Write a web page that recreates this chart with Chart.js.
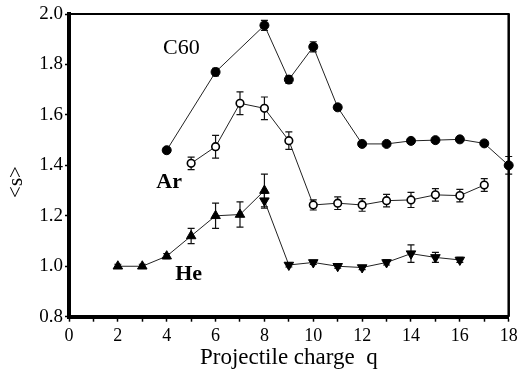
<!DOCTYPE html>
<html>
<head>
<meta charset="utf-8">
<script src="https://cdn.jsdelivr.net/npm/chart.js@4.4.1/dist/chart.umd.min.js"></script>
<style>
  html, body { margin: 0; padding: 0; background: #ffffff; }
  #wrap { width: 518px; height: 378px; }
</style>
</head>
<body>
<div id="wrap"><canvas id="c" width="518" height="378"></canvas></div>
<script>
// ---- data ----
const c60Q   = [4, 6, 8, 9, 10, 11, 12, 13, 14, 15, 16, 17, 18];
const c60S   = [1.46, 1.77, 1.955, 1.74, 1.87, 1.63, 1.485, 1.485, 1.497, 1.50, 1.503, 1.487, 1.40];
const c60Err = [0.008, 0.015, 0.02, 0.015, 0.02, 0.01, 0.008, 0.008, 0.008, 0.008, 0.008, 0.008, 0.035];

const arQ   = [5, 6, 7, 8, 9, 10, 11, 12, 13, 14, 15, 16, 17];
const arS   = [1.408, 1.474, 1.646, 1.626, 1.498, 1.243, 1.25, 1.243, 1.26, 1.263, 1.283, 1.28, 1.322];
const arErr = [0.025, 0.045, 0.045, 0.045, 0.035, 0.02, 0.025, 0.025, 0.025, 0.03, 0.025, 0.025, 0.025];

const heLowQ   = [2, 3, 4, 5, 6, 7, 8];
const heLowS   = [1.00, 1.00, 1.04, 1.12, 1.20, 1.205, 1.30];
const heLowErr = [0.008, 0.008, 0.01, 0.03, 0.05, 0.05, 0.065];

const heHighQ   = [8, 9, 10, 11, 12, 13, 14, 15, 16];
const heHighS   = [1.26, 1.005, 1.015, 1.00, 0.995, 1.015, 1.05, 1.035, 1.025];
const heHighErr = [0.03, 0.008, 0.008, 0.008, 0.008, 0.01, 0.035, 0.02, 0.01];

const xTicksRange = [0, 18];
const yTicksRange = [0.8, 2.0];
const seriesNames = ['C60', 'Ar', 'He'];
const xTitle = 'Projectile charge  q';
const yTitle = '<s>';

function pts(qs, ss) { return qs.map((q, i) => ({x: q, y: ss[i]})); }

const SERIF = '"Liberation Serif", "Times New Roman", serif';

const errPlugin = {
  id: 'errbars',
  beforeDatasetsDraw(chart) {
    const ctx = chart.ctx, xs = chart.scales.x, ys = chart.scales.y;
    ctx.save();
    ctx.strokeStyle = '#111';
    ctx.lineWidth = 1.2;
    chart.data.datasets.forEach(ds => {
      ds.data.forEach((p, i) => {
        const e = ds.errors[i];
        const px = xs.getPixelForValue(p.x);
        const y1 = ys.getPixelForValue(p.y + e), y2 = ys.getPixelForValue(p.y - e);
        ctx.beginPath();
        ctx.moveTo(px, y1); ctx.lineTo(px, y2);
        ctx.moveTo(px - 3.5, y1); ctx.lineTo(px + 3.5, y1);
        ctx.moveTo(px - 3.5, y2); ctx.lineTo(px + 3.5, y2);
        ctx.stroke();
      });
    });
    ctx.restore();
  }
};

const framePlugin = {
  id: 'frame',
  afterDraw(chart) {
    const ctx = chart.ctx, a = chart.chartArea, xs = chart.scales.x, ys = chart.scales.y;
    ctx.save();
    ctx.strokeStyle = '#000';
    ctx.lineWidth = 2;
    ctx.beginPath();
    ctx.moveTo(a.left, a.top); ctx.lineTo(a.right + 1, a.top);
    ctx.stroke();
    ctx.lineWidth = 2.5;
    ctx.beginPath();
    ctx.moveTo(a.right, a.top); ctx.lineTo(a.right, a.bottom);
    ctx.stroke();
    // series labels
    ctx.fillStyle = '#000';
    ctx.textAlign = 'center';
    ctx.textBaseline = 'middle';
    ctx.font = '22px ' + SERIF;
    ctx.fillText(seriesNames[0], xs.getPixelForValue(4.6), ys.getPixelForValue(1.865));
    ctx.font = 'bold 22px ' + SERIF;
    ctx.fillText(seriesNames[1], xs.getPixelForValue(4.1), ys.getPixelForValue(1.333));
    ctx.fillText(seriesNames[2], xs.getPixelForValue(4.9), ys.getPixelForValue(0.968));
    // y title
    ctx.font = '21px ' + SERIF;
    ctx.translate(a.left - 53, a.top + 168);
    ctx.rotate(-Math.PI / 2);
    ctx.fillText(yTitle, 0, 0);
    ctx.restore();
  }
};

const lineCommon = { borderColor: '#222', borderWidth: 1, showLine: true, tension: 0, clip: false };

new Chart(document.getElementById('c'), {
  type: 'scatter',
  data: {
    datasets: [
      Object.assign({ label: 'C60', data: pts(c60Q, c60S), errors: c60Err,
        pointStyle: 'circle', pointRadius: 4.5, pointBackgroundColor: '#000', pointBorderColor: '#000', pointBorderWidth: 1 }, lineCommon),
      Object.assign({ label: 'Ar', data: pts(arQ, arS), errors: arErr,
        pointStyle: 'circle', pointRadius: 3.8, pointBackgroundColor: '#fff', pointBorderColor: '#000', pointBorderWidth: 1.6 }, lineCommon),
      Object.assign({ label: 'He', data: pts(heLowQ, heLowS), errors: heLowErr,
        pointStyle: 'triangle', pointRadius: 5.5, pointBackgroundColor: '#000', pointBorderColor: '#000', pointBorderWidth: 1 }, lineCommon),
      Object.assign({ label: 'He (high q)', data: pts(heHighQ, heHighS), errors: heHighErr,
        pointStyle: 'triangle', pointRotation: 180, pointRadius: 5.5, pointBackgroundColor: '#000', pointBorderColor: '#000', pointBorderWidth: 1 }, lineCommon)
    ]
  },
  options: {
    responsive: false,
    animation: false,
    events: [],
    layout: { padding: { top: 14, right: 9.3, left: 0, bottom: 0 } },
    plugins: { legend: { display: false }, tooltip: { enabled: false } },
    scales: {
      x: {
        type: 'linear',
        min: xTicksRange[0], max: xTicksRange[1],
        afterFit(s) { s.height = 61.3; s.paddingLeft = 0; s.paddingRight = 0; },
        border: { display: true, color: '#000', width: 4 },
        grid: { drawOnChartArea: false, drawTicks: true, tickLength: 5, tickColor: '#000', tickWidth: 1.5 },
        ticks: {
          stepSize: 1, autoSkip: false, maxRotation: 0, padding: 4, color: '#000',
          font: { family: SERIF, size: 18 },
          callback: v => (v % 2 === 0 ? String(v) : '')
        },
        title: { display: true, text: xTitle, color: '#000', font: { family: SERIF, size: 23 }, padding: { top: 0, bottom: 6 } }
      },
      y: {
        type: 'linear',
        min: yTicksRange[0], max: yTicksRange[1],
        afterFit(s) { s.width = 69; s.paddingTop = 0; s.paddingBottom = 0; },
        border: { display: true, color: '#000', width: 4 },
        grid: { drawOnChartArea: false, drawTicks: true, tickLength: 4, tickColor: '#000', tickWidth: 1.5 },
        ticks: {
          stepSize: 0.2, padding: 2, color: '#000',
          font: { family: SERIF, size: 19 },
          callback: v => Number(v).toFixed(1)
        }
      }
    }
  },
  plugins: [errPlugin, framePlugin]
});
</script>
</body>
</html>
